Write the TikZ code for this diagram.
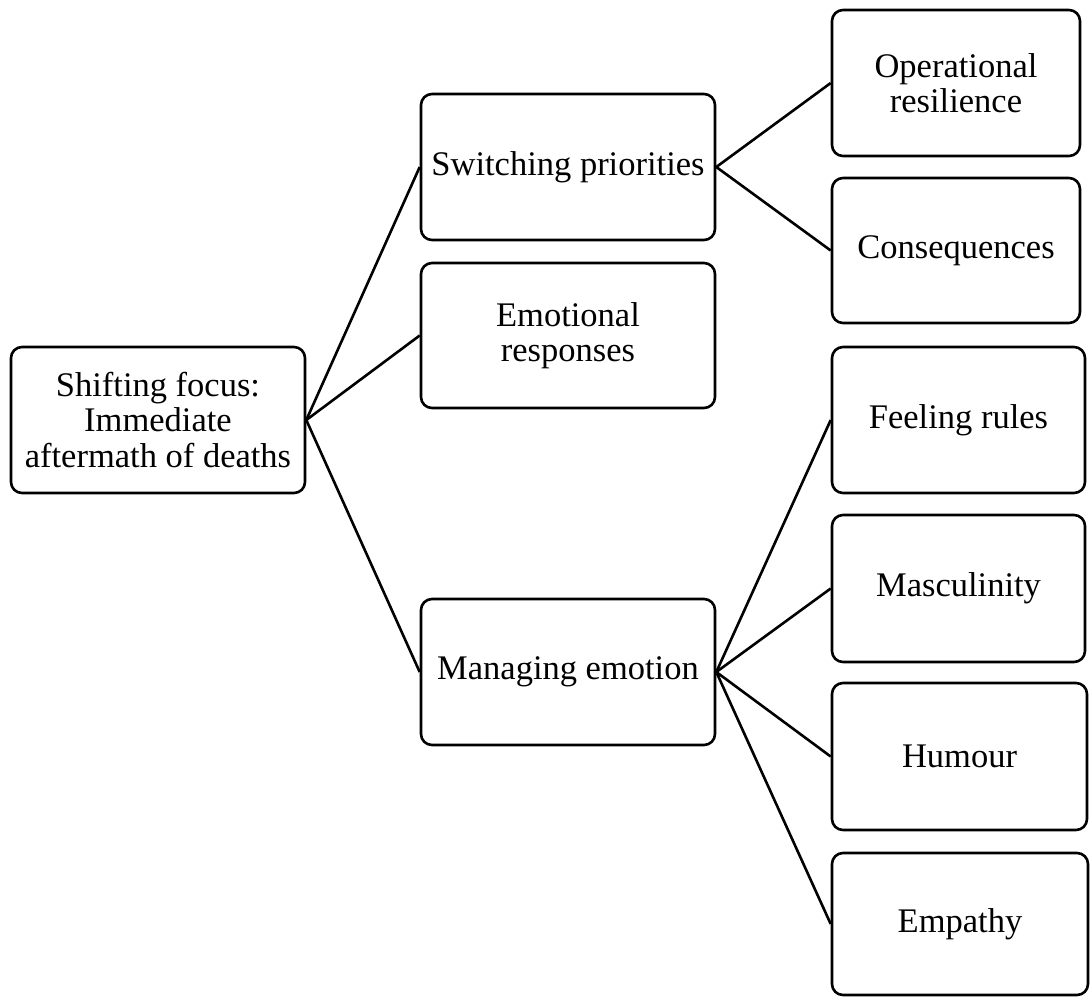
\documentclass[tikz,border=0pt]{standalone}
\usepackage{fontspec}
\setmainfont{Liberation Serif}
\begin{document}
\begin{tikzpicture}[x=1pt,y=-1pt,
  box/.style={draw=black, line width=2.6pt, rounded corners=11pt, fill=white,
    align=center, inner sep=0pt, font=\fontsize{34.5}{35.5}\selectfont},
  link/.style={draw=black, line width=2.6pt}]
\useasboundingbox (0,0) rectangle (1090,997);
% first level
\node[box, minimum width=294pt, minimum height=146pt] (root) at (158,420)
  {Shifting focus:\\Immediate\\aftermath of deaths};
% second level
\node[box, minimum width=294pt, minimum height=146pt] (switch) at (568,167) {Switching priorities};
\node[box, minimum width=294pt, minimum height=145pt] (emot) at (568,335.5) {Emotional\\responses};
\node[box, minimum width=294pt, minimum height=146pt] (manage) at (568,672) {Managing emotion};
% third level
\node[box, minimum width=248pt, minimum height=146pt] (oper) at (956,83) {Operational\\resilience};
\node[box, minimum width=248pt, minimum height=145pt] (cons) at (956,250.5) {Consequences};
\node[box, minimum width=253pt, minimum height=146pt] (feel) at (958.5,420) {Feeling rules};
\node[box, minimum width=253pt, minimum height=147pt] (masc) at (958.5,588.5) {Masculinity};
\node[box, minimum width=255pt, minimum height=147pt] (humour) at (959.5,756.5) {Humour};
\node[box, minimum width=256pt, minimum height=142pt] (empathy) at (960,924) {Empathy};
% connectors
\draw[link] (root.east) -- (switch.west);
\draw[link] (root.east) -- (emot.west);
\draw[link] (root.east) -- (manage.west);
\draw[link] (switch.east) -- (oper.west);
\draw[link] (switch.east) -- (cons.west);
\draw[link] (manage.east) -- (feel.west);
\draw[link] (manage.east) -- (masc.west);
\draw[link] (manage.east) -- (humour.west);
\draw[link] (manage.east) -- (empathy.west);
\end{tikzpicture}
\end{document}
